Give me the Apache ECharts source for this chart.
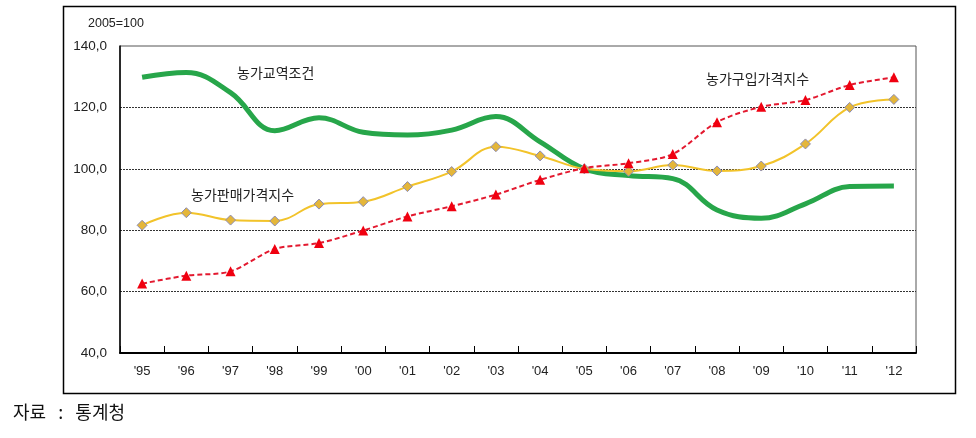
<!DOCTYPE html>
<html>
<head>
<meta charset="utf-8">
<script src="https://cdn.jsdelivr.net/npm/echarts@6/dist/echarts.min.js"></script>
<style>
html,body{margin:0;padding:0;background:#fff;}
#c{width:976px;height:438px;}
</style>
</head>
<body>
<div id="c"></div>
<script>
var years = ["'95","'96","'97","'98","'99","'00","'01","'02","'03","'04","'05","'06","'07","'08","'09","'10","'11","'12"];
var termsOfTrade = [129.8,131.4,124.8,112.4,116.6,111.9,111.0,112.6,117.0,108.8,100.0,97.8,96.8,86.6,83.9,88.6,94.2,94.4];
var salesPrice  = [81.6,85.7,83.3,83.0,88.5,89.3,94.2,99.1,107.2,104.2,100.0,99.2,101.2,99.3,100.9,108.1,120.0,122.6];
var purchasePrice = [62.6,65.2,66.6,73.9,75.8,79.9,84.5,87.8,91.6,96.4,100.2,101.8,104.8,115.2,120.2,122.4,127.3,129.8];
var yTicks = [40,60,80,100,120,140];
var seriesNames = ['농가교역조건','농가판매가격지수','농가구입가격지수'];

var FONT = "'Liberation Sans','Noto Sans CJK KR',sans-serif";
var KFONT = "'Noto Sans CJK KR',sans-serif";
var chart = echarts.init(document.getElementById('c'), null, {renderer:'canvas'});
chart.setOption({
  backgroundColor:'#fff',
  animation:false,
  grid:{left:120,right:60,top:46,bottom:85,show:true,borderColor:'#555',borderWidth:1,backgroundColor:'transparent'},
  xAxis:{
    type:'category',
    data:years,
    boundaryGap:true,
    axisLine:{lineStyle:{color:'#000',width:2}},
    axisTick:{show:true,inside:true,length:7,lineStyle:{color:'#000',width:1}},
    axisLabel:{color:'#222',fontSize:13,fontFamily:FONT,margin:12}
  },
  yAxis:{
    type:'value',
    min:yTicks[0],max:yTicks[yTicks.length-1],interval:20,
    axisLine:{show:true,lineStyle:{color:'#000',width:1.5}},
    axisTick:{show:false},
    axisLabel:{color:'#222',fontSize:13.5,fontFamily:FONT,margin:13,
      formatter:function(v){return v.toFixed(1).replace('.',',');}},
    splitLine:{show:true,lineStyle:{type:[2,1],width:1,
      color:['rgba(0,0,0,0)','#333','#333','#333','#333','rgba(0,0,0,0)']}}
  },
  series:[
    {name:seriesNames[0],type:'line',data:termsOfTrade,smooth:0.4,showSymbol:false,symbol:'none',
     lineStyle:{color:'#27A64A',width:5},z:2},
    {name:seriesNames[1],type:'line',data:salesPrice,smooth:0.4,symbol:'diamond',symbolSize:10,
     lineStyle:{color:'#F2C32A',width:2},
     itemStyle:{color:'#E4B63A',borderColor:'#8C8CB4',borderWidth:1},z:3},
    {name:seriesNames[2],type:'line',data:purchasePrice,smooth:0.3,symbol:'triangle',symbolSize:10,
     lineStyle:{color:'#E3192F',width:2,type:[5,3]},
     itemStyle:{color:'#F00010',borderWidth:0},z:4}
  ],
  graphic:[
    {type:'rect',shape:{x:63.5,y:6.5,width:892,height:387},style:{fill:'none',stroke:'#000',lineWidth:1.5},silent:true},
    {type:'text',left:88,top:17,style:{text:'2005=100',fill:'#222',font:"12.5px "+FONT}},
    {type:'text',left:237,top:66,style:{text:seriesNames[0],fill:'#222',font:"14px "+KFONT}},
    {type:'text',left:191,top:188,style:{text:seriesNames[1],fill:'#222',font:"14px "+KFONT}},
    {type:'text',left:706,top:72,style:{text:seriesNames[2],fill:'#222',font:"14px "+KFONT}},
    {type:'text',left:13,top:403,style:{text:'자료   :   통계청',fill:'#111',font:"18px "+KFONT}}
  ]
});
</script>
</body>
</html>
